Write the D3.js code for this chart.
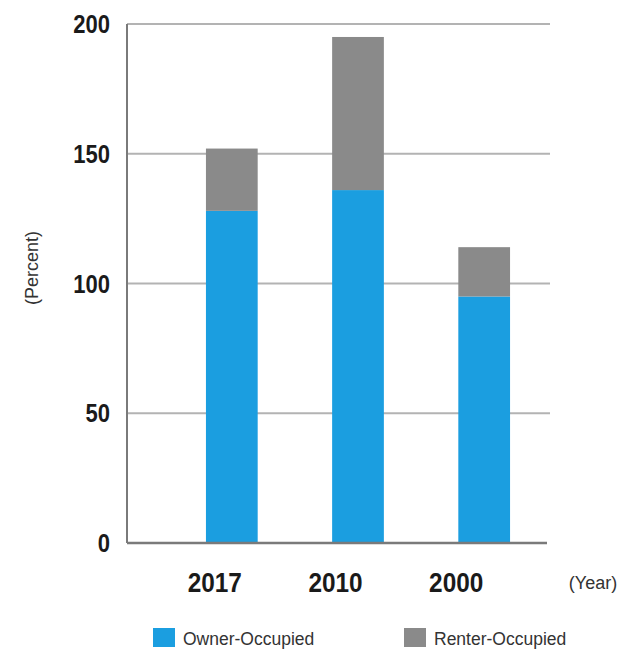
<!DOCTYPE html>
<html>
<head>
<meta charset="utf-8">
<script src="https://cdn.jsdelivr.net/npm/d3@7"></script>
<style>
  body { margin: 0; background: #fff; }
  .tick-num { font-family: "Liberation Sans", Arial, sans-serif; font-weight: bold; fill: #1a1a1a; }
  .plain { font-family: "Liberation Sans", Arial, sans-serif; fill: #333; }
</style>
</head>
<body>
<div id="chart"></div>
<script>
// chart data
var years = ["2017", "2010", "2000"];
var owner = [128, 136, 95];
var renter = [24, 59, 19];
var yTicks = [0, 50, 100, 150, 200];
var seriesNames = ["Owner-Occupied", "Renter-Occupied"];
var seriesColors = ["#1b9ee0", "#8a8a8a"];

var width = 622, height = 649;
var svg = d3.select("#chart").append("svg")
    .attr("width", width)
    .attr("height", height);

// plot area
var plotLeft = 127, plotRight = 550;
var y = d3.scaleLinear().domain([0, 200]).range([543, 24]);
var x = d3.scaleBand().domain(years).range([158, 558])
    .paddingInner(0.59).paddingOuter(0.38);

var rows = years.map(function(yr, i) {
    return {year: yr, owner: owner[i], renter: renter[i]};
});
var stacked = d3.stack().keys(["owner", "renter"])(rows);

// gridlines
svg.append("g")
    .selectAll("line")
    .data(yTicks.filter(function(d) { return d > 0; }))
    .enter().append("line")
    .attr("x1", plotLeft)
    .attr("x2", plotRight)
    .attr("y1", function(d) { return y(d); })
    .attr("y2", function(d) { return y(d); })
    .style("stroke", "#b3b3b3")
    .style("stroke-width", 2);

// bars
svg.append("g")
    .selectAll("g")
    .data(stacked)
    .enter().append("g")
    .style("fill", function(d, i) { return seriesColors[i]; })
    .selectAll("rect")
    .data(function(d) { return d; })
    .enter().append("rect")
    .attr("x", function(d) { return x(d.data.year); })
    .attr("width", x.bandwidth())
    .attr("y", function(d) { return y(d[1]); })
    .attr("height", function(d) { return y(d[0]) - y(d[1]); });

// axis lines
svg.append("line")
    .attr("x1", plotLeft).attr("x2", plotLeft)
    .attr("y1", y(200)).attr("y2", y(0))
    .style("stroke", "#7a7a7a").style("stroke-width", 2);
svg.append("line")
    .attr("x1", plotLeft).attr("x2", 547)
    .attr("y1", y(0)).attr("y2", y(0))
    .style("stroke", "#7a7a7a").style("stroke-width", 2.5);

// y tick labels, squeezed a bit to look like a narrow face
svg.append("g")
    .selectAll("text")
    .data(yTicks)
    .enter().append("text")
    .attr("class", "tick-num")
    .attr("transform", function(d) { return "translate(110," + y(d) + ") scale(0.88,1)"; })
    .attr("dy", "0.36em")
    .style("text-anchor", "end")
    .style("font-size", "25px")
    .text(function(d) { return d; });

// x tick labels (sit a little left of the bars, as in the original)
svg.append("g")
    .selectAll("text")
    .data(years)
    .enter().append("text")
    .attr("class", "tick-num")
    .attr("transform", function(d, i) {
        var cx = x(d) + x.bandwidth() / 2 - 17 - i * 5.5;
        return "translate(" + cx + ",592) scale(0.87,1)";
    })
    .style("text-anchor", "middle")
    .style("font-size", "28px")
    .text(function(d) { return d; });

svg.append("text")
    .attr("class", "plain")
    .attr("x", 593)
    .attr("y", 589)
    .style("text-anchor", "middle")
    .style("font-size", "18px")
    .text("(Year)");

svg.append("text")
    .attr("class", "plain")
    .attr("transform", "translate(38,268) rotate(-90)")
    .style("text-anchor", "middle")
    .style("font-size", "18px")
    .text("(Percent)");

// legend
var legendX = [153, 404];
var legend = svg.append("g")
    .selectAll("g")
    .data(seriesNames)
    .enter().append("g")
    .attr("transform", function(d, i) { return "translate(" + legendX[i] + ",628)"; });
legend.append("rect")
    .attr("width", 22)
    .attr("height", 19)
    .style("fill", function(d, i) { return seriesColors[i]; });
legend.append("text")
    .attr("class", "plain")
    .attr("x", 30)
    .attr("y", 17)
    .style("font-size", "17.5px")
    .text(function(d) { return d; });
</script>
</body>
</html>
